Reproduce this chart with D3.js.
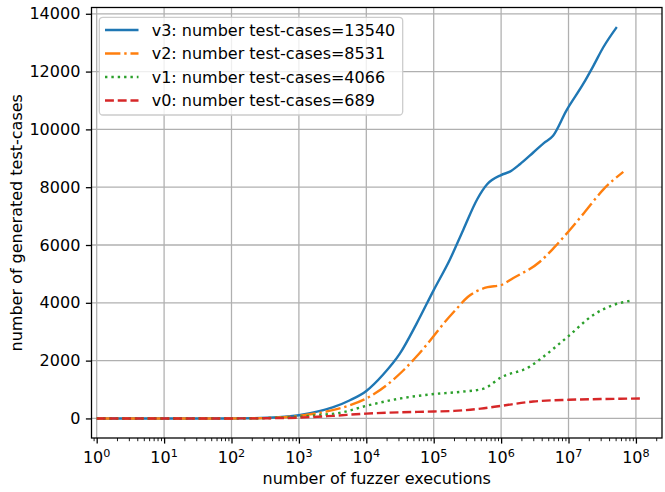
<!DOCTYPE html>
<html><head><meta charset="utf-8">
<script src="https://cdn.jsdelivr.net/npm/d3@7"></script>
<style>
body{margin:0;background:#fff;}
svg{display:block;font-family:"DejaVu Sans",sans-serif;}
</style></head>
<body><svg id="chart" width="665" height="492"></svg>
<script>
// ---- data ----
const seriesNames = ["v3: number test-cases=13540","v2: number test-cases=8531","v1: number test-cases=4066","v0: number test-cases=689"];
const seriesColors = ["#1f77b4","#ff7f0e","#2ca02c","#d62728"];
const seriesDash = ["", "15.4,3.84,2.4,3.84", "2.4,3.96", "8.9,3.84"];

const v3x = [1,10,100,200,500,1000,2000,3162,5623,1e4,1.78e4,3.16e4,5.6e4,1e5,1.74e5,2.75e5,4.4e5,6.2e5,1e6,1.35e6,1.9e6,3e6,4.3e6,5.9e6,9.3e6,1.66e7,2.34e7,3.3e7,5.2e7];
const v3y = [0,0,0,5,40,110,250,380,620,950,1520,2250,3290,4440,5500,6530,7575,8100,8420,8540,8795,9200,9526,9780,10650,11580,12200,12850,13540];

const v2x = [1,10,100,200,500,1000,2000,3162,5623,1e4,2e4,3.5e4,5.6e4,1e5,1.4e5,2.2e5,3.2e5,4.5e5,6.3e5,1e6,1.5e6,3.8e6,6e6,1e7,1.7e7,3.3e7,6.5e7];
const v2y = [0,0,0,4,30,90,190,285,450,690,1150,1650,2150,2850,3280,3800,4200,4420,4540,4615,4850,5430,5890,6470,7110,7925,8531];

const v1x = [1,10,100,300,1000,2000,4000,1e4,3e4,1e5,2.5e5,5.5e5,1e6,2.7e6,3.8e6,1e7,2.3e7,4.7e7,8.1e7];
const v1y = [0,0,2,10,60,120,190,435,680,843,920,1030,1420,1800,2050,2850,3570,3930,4066];

const v0x = [1,10,100,300,1000,3162,1e4,3e4,1e5,2e5,5e5,1e6,3e6,1e7,3e7,1.15e8];
const v0y = [0,0,0,5,28,90,167,210,240,261,340,435,585,645,670,689];

const xTickExps = [0,1,2,3,4,5,6,7,8];
const yTicks = [0,2000,4000,6000,8000,10000,12000,14000];
const xLabel = "number of fuzzer executions";
const yLabel = "number of generated test-cases";

const series = [[v3x,v3y],[v2x,v2y],[v1x,v1y],[v0x,v0y]];

// ---- layout ----
const L = 91.5, T = 7.5, R = 662, B = 438;
const svg = d3.select("#chart");
const x = d3.scaleLog().domain([Math.pow(10,-0.077), Math.pow(10,8.387)]).range([L,R]);
const y = d3.scaleLinear().domain([-677, 14217]).range([B,T]);
const grid = "#b0b0b0";

// grid
const g = svg.append("g");
xTickExps.forEach(e=>{
  const px = x(Math.pow(10,e));
  g.append("line").attr("x1",px).attr("x2",px).attr("y1",T).attr("y2",B).attr("stroke",grid).attr("stroke-width",1.28);
});
yTicks.forEach(v=>{
  const py = y(v);
  g.append("line").attr("x1",L).attr("x2",R).attr("y1",py).attr("y2",py).attr("stroke",grid).attr("stroke-width",1.28);
});

// lines
svg.append("clipPath").attr("id","clp").append("rect").attr("x",L).attr("y",T).attr("width",R-L).attr("height",B-T);
const line = d3.line().x(d=>x(d[0])).y(d=>y(d[1])).curve(d3.curveMonotoneX);
const lg = svg.append("g").attr("clip-path","url(#clp)");
series.forEach((s,i)=>{
  const pts = s[0].map((xv,j)=>[xv,s[1][j]]);
  lg.append("path").attr("d",line(pts)).attr("fill","none")
    .attr("stroke",seriesColors[i]).attr("stroke-width",2.4)
    .attr("stroke-dasharray",seriesDash[i]||null)
    .attr("stroke-linejoin","round");
});

// axes
const xAxis = d3.axisBottom(x).tickValues(xTickExps.map(e=>Math.pow(10,e))).tickSize(5.6).tickPadding(5.6).tickFormat("");
const ax = svg.append("g").attr("transform",`translate(0,${B})`).call(xAxis);
ax.select(".domain").remove();
ax.selectAll("line").attr("stroke","#000").attr("stroke-width",1.28);
// minor ticks
const minor = [];
for(let e=-1;e<=8;e++){for(let k=2;k<=9;k++){const v=k*Math.pow(10,e); if(v>=x.domain()[0] && v<=x.domain()[1]) minor.push(v);}}
const mx = svg.append("g").attr("transform",`translate(0,${B})`).call(d3.axisBottom(x).tickValues(minor).tickSize(3.2).tickFormat(""));
mx.select(".domain").remove();
mx.selectAll("line").attr("stroke","#000").attr("stroke-width",0.9);
// x tick labels
xTickExps.forEach(e=>{
  const t = svg.append("text").attr("x",x(Math.pow(10,e))).attr("y",462.7).attr("text-anchor","middle")
    .attr("font-size",16).attr("fill","#000");
  t.append("tspan").text("10");
  t.append("tspan").attr("dy",-6).attr("font-size",11.2).text(String(e));
});

const yAxis = d3.axisLeft(y).tickValues(yTicks).tickSize(5.6).tickPadding(5.6).tickFormat(d3.format("d"));
const ay = svg.append("g").attr("transform",`translate(${L},0)`).call(yAxis);
ay.select(".domain").remove();
ay.selectAll("line").attr("stroke","#000").attr("stroke-width",1.28);
ay.selectAll("text").attr("font-size",16).attr("font-family","DejaVu Sans").attr("fill","#000");

// spines
svg.append("rect").attr("x",L).attr("y",T).attr("width",R-L).attr("height",B-T)
  .attr("fill","none").attr("stroke","#000").attr("stroke-width",1.28);

// labels
svg.append("text").attr("x",(L+R)/2).attr("y",483.7).attr("text-anchor","middle").attr("font-size",16).text(xLabel);
svg.append("text").attr("transform",`translate(21.5,${(T+B)/2}) rotate(-90)`).attr("text-anchor","middle").attr("font-size",16).text(yLabel);

// legend
const lgd = svg.append("g");
lgd.append("rect").attr("x",99.3).attr("y",17.3).attr("width",303.4).attr("height",97.7).attr("rx",3.5)
  .attr("fill","#fff").attr("fill-opacity",0.8).attr("stroke","#cccccc").attr("stroke-width",1.28);
const rowY = [30,53.5,77,100.5];
seriesNames.forEach((n,i)=>{
  lgd.append("line").attr("x1",105).attr("x2",138.5).attr("y1",rowY[i]).attr("y2",rowY[i])
    .attr("stroke",seriesColors[i]).attr("stroke-width",2.4).attr("stroke-dasharray",seriesDash[i]||null);
  lgd.append("text").attr("x",151.7).attr("y",rowY[i]).attr("dy","0.35em").attr("font-size",16).text(n);
});
</script></body></html>
